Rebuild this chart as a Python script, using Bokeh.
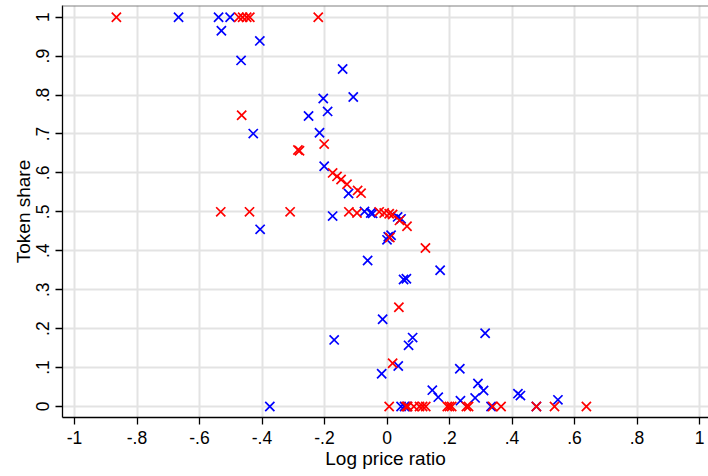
from bokeh.plotting import figure
from bokeh.models import Range1d, FixedTicker, Span, ColumnDataSource
from bokeh.embed import file_html
from bokeh.resources import INLINE

# Log price ratio (x) and token share (y) for the two groups
blue_ratio = [-0.667, -0.539, -0.502, -0.530, -0.407, -0.467, -0.142, -0.108, -0.204, -0.190,
              -0.251, -0.428, -0.216, -0.201, -0.123, -0.174, -0.406, -0.072, -0.052, -0.046,
              0.034, 0.045, 0.004, 0.013, 0.000, -0.062, 0.170, 0.053, 0.062, -0.014,
              -0.169, 0.082, 0.069, 0.314, 0.036, -0.017, 0.233, 0.145, 0.164, 0.291,
              0.309, 0.282, 0.235, 0.419, 0.427, 0.547, -0.375, 0.045, 0.056, 0.064,
              0.333, 0.478]
blue_share = [1.0, 1.0, 1.0, 0.965, 0.939, 0.889, 0.867, 0.795, 0.791, 0.758,
              0.746, 0.701, 0.703, 0.617, 0.547, 0.489, 0.455, 0.501, 0.497, 0.496,
              0.487, 0.482, 0.436, 0.440, 0.428, 0.375, 0.350, 0.326, 0.328, 0.224,
              0.171, 0.177, 0.157, 0.188, 0.104, 0.084, 0.097, 0.042, 0.024, 0.059,
              0.041, 0.022, 0.015, 0.033, 0.028, 0.017, 0.0, 0.0, 0.0, 0.0,
              0.0, 0.0]

red_ratio = [-0.866, -0.474, -0.462, -0.449, -0.439, -0.220, -0.465, -0.201, -0.285, -0.280,
             -0.174, -0.160, -0.147, -0.128, -0.094, -0.083, -0.532, -0.440, -0.310, -0.122,
             -0.096, -0.025, -0.009, 0.007, 0.018, 0.040, 0.064, 0.009, 0.123, 0.038,
             0.018, 0.007, 0.061, 0.066, 0.086, 0.104, 0.114, 0.124, 0.193, 0.200,
             0.207, 0.254, 0.261, 0.338, 0.365, 0.478, 0.536, 0.638]
red_share = [1.0, 1.0, 1.0, 1.0, 1.0, 1.0, 0.748, 0.674, 0.659, 0.657,
             0.600, 0.591, 0.583, 0.571, 0.555, 0.548, 0.500, 0.500, 0.500, 0.500,
             0.497, 0.500, 0.497, 0.495, 0.493, 0.478, 0.463, 0.434, 0.407, 0.255,
             0.111, 0.0, 0.0, 0.0, 0.0, 0.0, 0.0, 0.0, 0.0, 0.0,
             0.0, 0.0, 0.0, 0.0, 0.0, 0.0, 0.0, 0.0]

x_ticks = [-1, -0.8, -0.6, -0.4, -0.2, 0, 0.2, 0.4, 0.6, 0.8, 1]
x_tick_labels = ["-1", "-.8", "-.6", "-.4", "-.2", "0", ".2", ".4", ".6", ".8", "1"]
y_ticks = [0, 0.1, 0.2, 0.3, 0.4, 0.5, 0.6, 0.7, 0.8, 0.9, 1]
y_tick_labels = ["0", ".1", ".2", ".3", ".4", ".5", ".6", ".7", ".8", ".9", "1"]

FONT = "Liberation Sans, Arial, sans-serif"

p = figure(width=708, height=476, output_backend="svg", toolbar_location=None,
           x_range=Range1d(-1.0384, 1.0288), y_range=Range1d(-0.0283, 1.030),
           min_border_left=62, min_border_right=0, min_border_top=5, min_border_bottom=59)
p.outline_line_color = None
p.background_fill_color = "white"
p.border_fill_color = "white"

# top edge of the plot region
p.add_layout(Span(location=1.030, dimension="width", line_color="#808080", line_width=2))

p.xaxis.ticker = FixedTicker(ticks=x_ticks)
p.yaxis.ticker = FixedTicker(ticks=y_ticks)
p.xaxis.major_label_overrides = {t: l for t, l in zip(x_ticks, x_tick_labels)}
p.yaxis.major_label_overrides = {t: l for t, l in zip(y_ticks, y_tick_labels)}
p.yaxis.major_label_orientation = "vertical"

for ax in (p.xaxis, p.yaxis):
    ax.axis_line_color = "black"
    ax.axis_line_width = 1.3
    ax.major_tick_line_color = "black"
    ax.major_tick_line_width = 1.3
    ax.major_tick_out = 7
    ax.major_tick_in = 0
    ax.minor_tick_line_color = None
    ax.major_label_text_font = FONT
    ax.major_label_text_font_size = "17.5px"
    ax.major_label_text_color = "black"
    ax.axis_label_text_font = FONT
    ax.axis_label_text_font_size = "19px"
    ax.axis_label_text_font_style = "normal"
    ax.axis_label_text_color = "black"

p.xaxis.axis_label = "Log price ratio"
p.yaxis.axis_label = "Token share"
p.xaxis.major_label_standoff = 6
p.xaxis.axis_label_standoff = 1
p.yaxis.major_label_standoff = 6
p.yaxis.axis_label_standoff = 0

p.xgrid.ticker = FixedTicker(ticks=x_ticks)
p.ygrid.ticker = FixedTicker(ticks=y_ticks)
for g in (p.xgrid, p.ygrid):
    g.grid_line_color = "#e3e3e3"
    g.grid_line_width = 2

blue_src = ColumnDataSource(dict(x=blue_ratio, y=blue_share))
red_src = ColumnDataSource(dict(x=red_ratio, y=red_share))
p.scatter("x", "y", source=blue_src, marker="x", size=13, line_color="#0000ff", line_width=1.7)
p.scatter("x", "y", source=red_src, marker="x", size=13, line_color="#ff0000", line_width=1.7)

open("out.html", "w").write(file_html(p, INLINE))
